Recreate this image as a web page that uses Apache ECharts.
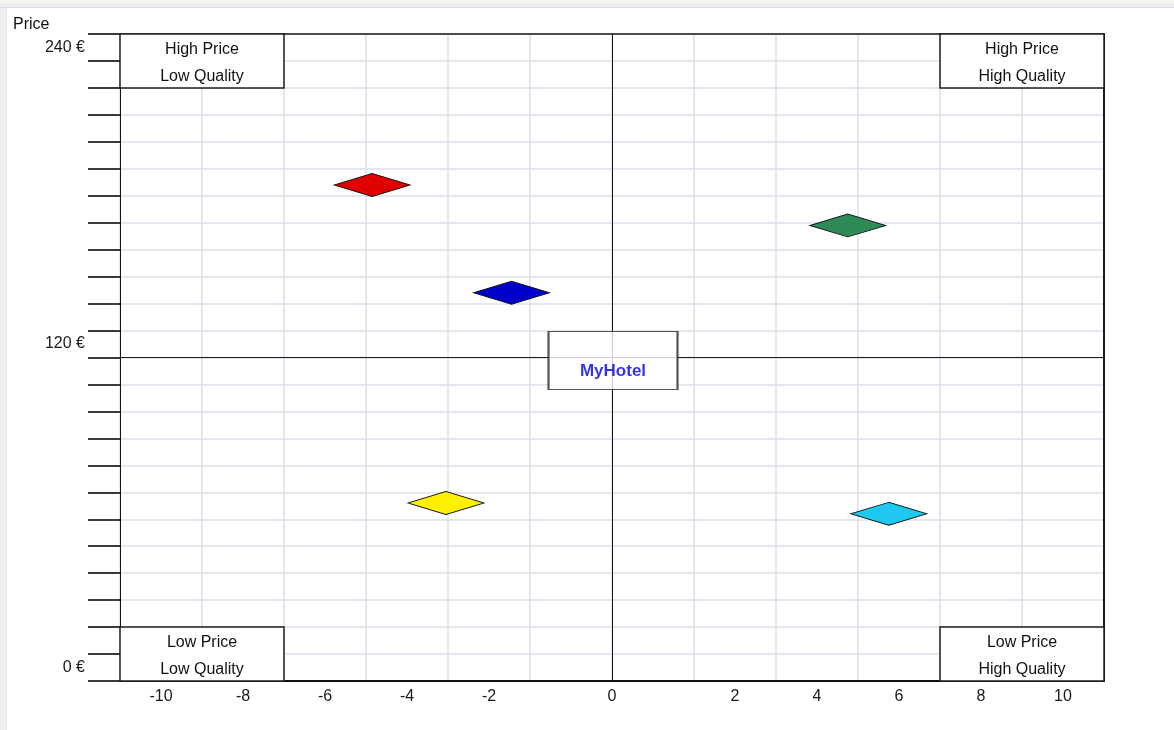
<!DOCTYPE html>
<html>
<head>
<meta charset="utf-8">
<title>Price / Quality</title>
<script src="https://cdn.jsdelivr.net/npm/echarts@6/dist/echarts.min.js"></script>
<style>
  html, body { margin: 0; padding: 0; background: #fff; }
  #frameTop { position: absolute; left: 0; top: 0; width: 1174px; height: 7px;
              background: linear-gradient(#f7f7f7, #ececec); border-bottom: 1px solid #d6dcea; }
  #frameLeft { position: absolute; left: 0; top: 8px; width: 6px; height: 722px;
               background: #efefef; border-right: 1px solid #e2e2e2; }
  #chart { position: absolute; left: 0; top: 0; width: 1174px; height: 730px; }
</style>
</head>
<body>
<div id="frameTop"></div>
<div id="frameLeft"></div>
<div id="chart"></div>
<script>
// Competitors: quality score (x) and room price in € (y)
const competitorQuality = [-5.85, -2.45, -4.05, 5.75, 6.75];
const competitorPrice   = [184, 144, 66, 169, 62];

// Own hotel
const myHotelName = 'MyHotel';
const myHotelQuality = 0;
const myHotelPrice = 120;

// Tick labels and where they sit on each axis
const xTickValues = [-11, -9, -7, -5, -3, 0, 3, 5, 7, 9, 11];
const xTickLabels = ['-10', '-8', '-6', '-4', '-2', '0', '2', '4', '6', '8', '10'];
const yTickValues = [5, 125, 235];
const yTickLabels = ['0 €', '120 €', '240 €'];

// Quadrant captions
const quadrantLabels = ['High Price\nLow Quality', 'High Price\nHigh Quality',
                        'Low Price\nLow Quality', 'Low Price\nHigh Quality'];
const quadrantRanges = [[[-12, 220], [-8, 240]], [[8, 220], [12, 240]],
                        [[-12, 0], [-8, 20]], [[8, 0], [12, 20]]];

const markerColors = ['#e00000', '#0000cc', '#fff000', '#2e8b57', '#1ec8f0'];
const FONT = '"Liberation Sans Narrow", "Liberation Sans", Arial, sans-serif';
const GRID_LINE = { color: '#dadfeb', width: 1.5 };

const chart = echarts.init(document.getElementById('chart'), null, { renderer: 'canvas' });

const competitorData = competitorQuality.map((q, i) => ({
  value: [q, competitorPrice[i]],
  itemStyle: { color: markerColors[i % markerColors.length] }
}));

// an axis that only draws its line (used for the frame's top and right edges)
const frameX = { type: 'value', min: -12, max: 12, position: 'top',
  axisLine: { show: true, onZero: false, lineStyle: { color: '#1a1a1a', width: 1.5 } },
  axisTick: { show: false }, axisLabel: { show: false }, splitLine: { show: false } };
const frameY = { type: 'value', min: 0, max: 240, position: 'right',
  axisLine: { show: true, onZero: false, lineStyle: { color: '#1a1a1a', width: 2 } },
  axisTick: { show: false }, axisLabel: { show: false }, splitLine: { show: false } };

const option = {
  animation: false,
  textStyle: { fontFamily: FONT },
  title: {
    text: 'Price', left: 8, top: 12,
    textStyle: { fontFamily: FONT, fontSize: 16, fontWeight: 'normal', color: '#111' }
  },
  grid: { left: 120, right: 70, top: 34, bottom: 49, show: false },
  xAxis: [
    {
      type: 'value', min: -12, max: 12, interval: 2,
      axisLine: { show: true, onZero: false, lineStyle: { color: '#111', width: 2 } },
      axisTick: { show: false },
      axisLabel: { show: false },
      splitLine: { show: true, lineStyle: GRID_LINE }
    },
    {
      type: 'value', min: -12, max: 12, interval: 1, position: 'bottom',
      axisLine: { show: false }, axisTick: { show: false }, splitLine: { show: false },
      axisLabel: {
        show: true, margin: 8, fontSize: 16, color: '#1a1a1a', fontFamily: FONT,
        showMinLabel: true, showMaxLabel: true,
        formatter: v => { const i = xTickValues.indexOf(v); return i >= 0 ? xTickLabels[i] : ''; }
      }
    },
    frameX
  ],
  yAxis: [
    {
      type: 'value', min: 0, max: 240, interval: 10,
      axisLine: { show: true, onZero: false, lineStyle: { color: '#111', width: 1 } },
      axisTick: { show: true, inside: false, length: 32, lineStyle: { color: '#3a3a3a', width: 2 } },
      axisLabel: { show: false },
      splitLine: { show: true, lineStyle: GRID_LINE }
    },
    {
      type: 'value', min: 0, max: 240, interval: 5, position: 'left',
      axisLine: { show: false }, axisTick: { show: false }, splitLine: { show: false },
      axisLabel: {
        show: true, margin: 35, fontSize: 16, color: '#1a1a1a', fontFamily: FONT,
        formatter: v => { const i = yTickValues.indexOf(v); return i >= 0 ? yTickLabels[i] : ''; }
      }
    },
    frameY
  ],
  series: [
    {
      // quadrant boxes and the cross through the own hotel
      type: 'line', data: [], z: 2, silent: true,
      markArea: {
        silent: true,
        itemStyle: { color: '#ffffff', borderColor: '#1f1f1f', borderWidth: 1.5 },
        label: {
          show: true, position: 'inside', fontFamily: FONT, fontSize: 16,
          lineHeight: 27, color: '#111', align: 'center', offset: [0, 2]
        },
        data: quadrantRanges.map((r, i) => [
          { coord: r[0], name: quadrantLabels[i] },
          { coord: r[1] }
        ])
      },
      markLine: {
        silent: true, symbol: 'none',
        label: { show: false },
        lineStyle: { color: '#1a1a1a', width: 1, type: 'solid' },
        data: [{ yAxis: myHotelPrice }, { xAxis: myHotelQuality }]
      }
    },
    {
      name: 'competitors', type: 'scatter', z: 4,
      symbol: 'diamond', symbolSize: [76, 23],
      itemStyle: { borderColor: '#111', borderWidth: 1.2, opacity: 1 },
      data: competitorData
    },
    {
      name: myHotelName, type: 'scatter', z: 5,
      symbol: 'rect', symbolSize: [129, 58], symbolOffset: [1, 3],
      itemStyle: { color: '#ffffff', borderColor: '#2a2a2a', borderWidth: 1.5 },
      label: {
        show: true, position: 'inside', offset: [0, 11],
        formatter: myHotelName, fontFamily: FONT, fontSize: 17,
        fontWeight: 'bold', color: '#0000dd'
      },
      data: [[myHotelQuality, myHotelPrice]]
    }
  ]
};

chart.setOption(option);
</script>
</body>
</html>
